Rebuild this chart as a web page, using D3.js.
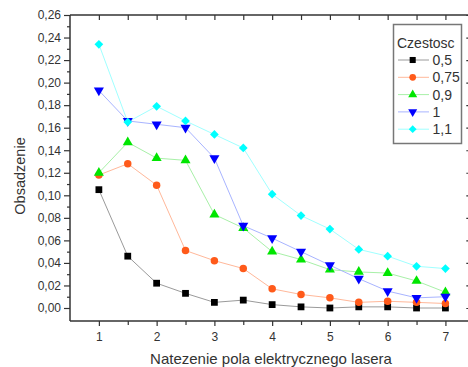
<!DOCTYPE html>
<html>
<head>
<meta charset="utf-8">
<script src="https://cdn.jsdelivr.net/npm/d3@7"></script>
<style>
  body { margin: 0; background: #fff; }
  text { font-family: Arial, "Liberation Sans", sans-serif; fill: #333; }
</style>
</head>
<body>
<div id="chart"></div>
<script>
// data
var xValues = [1, 1.5, 2, 2.5, 3, 3.5, 4, 4.5, 5, 5.5, 6, 6.5, 7];
var seriesNames = ["0,5", "0,75", "0,9", "1", "1,1"];
var s05  = [0.105, 0.046, 0.022, 0.013, 0.005, 0.007, 0.003, 0.001, 0.000, 0.001, 0.001, 0.000, 0.000];
var s075 = [0.118, 0.128, 0.109, 0.051, 0.042, 0.035, 0.017, 0.012, 0.009, 0.005, 0.006, 0.005, 0.004];
var s09  = [0.120, 0.147, 0.133, 0.131, 0.083, 0.071, 0.050, 0.043, 0.034, 0.032, 0.031, 0.024, 0.014];
var s1   = [0.193, 0.166, 0.163, 0.160, 0.133, 0.073, 0.062, 0.050, 0.038, 0.026, 0.015, 0.009, 0.010];
var s11  = [0.234, 0.165, 0.179, 0.166, 0.154, 0.142, 0.101, 0.082, 0.070, 0.052, 0.046, 0.037, 0.035];
var xTicks = [1, 2, 3, 4, 5, 6, 7];
var yTicks = [0, 0.02, 0.04, 0.06, 0.08, 0.10, 0.12, 0.14, 0.16, 0.18, 0.20, 0.22, 0.24, 0.26];

var allSeries = [s05, s075, s09, s1, s11];
var colors = ["#000000", "#ff5a1a", "#00e600", "#0000ff", "#00ffff"];
var lineColors = ["#9a9a9a", "#ffb89a", "#a8f0a8", "#a8b4ff", "#a0ffff"];
var symbols = [d3.symbolSquare, d3.symbolCircle, d3.symbolTriangle, d3.symbolTriangle, d3.symbolSquare];
var symSizes = [46, 44, 44, 44, 38];
var symRotate = [0, 0, 0, 180, 45];

var W = 468, H = 367;
var plotLeft = 70, plotTop = 15, plotBottom = 321;

var svg = d3.select("#chart").append("svg")
    .attr("width", W).attr("height", H);

var x = d3.scaleLinear().domain([0.5, 7.5]).range([plotLeft, 474.3]);
var y = d3.scaleLinear().domain([0, 0.26]).range([308, plotTop]);

var fmt = function (d) { return d3.format(".2f")(d).replace(".", ","); };

// bottom axis
var xb = svg.append("g").attr("transform", "translate(0," + plotBottom + ")")
    .call(d3.axisBottom(x).tickValues(xTicks).tickSize(5).tickPadding(6).tickFormat(d3.format("d")));
xb.append("g").call(d3.axisBottom(x).tickValues(d3.range(1.5, 7.1, 1)).tickSize(4).tickFormat(""));

// top axis, ticks inward
var xt = svg.append("g").attr("transform", "translate(0," + plotTop + ")")
    .call(d3.axisBottom(x).tickValues(d3.range(1, 7.6, 0.5)).tickSize(5).tickFormat(""));

// left axis
var yl = svg.append("g").attr("transform", "translate(" + plotLeft + ",0)")
    .call(d3.axisLeft(y).tickValues(yTicks).tickSize(6).tickPadding(3).tickFormat(fmt));
yl.append("g").call(d3.axisLeft(y).tickValues(d3.range(0.01, 0.26, 0.02)).tickSize(3).tickFormat(""));

// right axis, ticks inward
var yr = svg.append("g").attr("transform", "translate(" + x(7.5) + ",0)")
    .call(d3.axisRight(y).tickValues(yTicks).tickSize(-8).tickFormat(""));

[xb, xt, yl, yr].forEach(function (g) {
    g.selectAll("path.domain").remove();
    g.selectAll("line").attr("stroke", "#333").attr("stroke-width", 1.2);
    g.selectAll("text").attr("font-size", 12).attr("fill", "#333");
});

// frame
svg.append("line").attr("x1", plotLeft).attr("x2", x(7.5)).attr("y1", plotTop).attr("y2", plotTop)
    .attr("stroke", "#333").attr("stroke-width", 1.5);
svg.append("line").attr("x1", plotLeft).attr("x2", x(7.5)).attr("y1", plotBottom).attr("y2", plotBottom)
    .attr("stroke", "#333").attr("stroke-width", 1.5);
svg.append("line").attr("x1", plotLeft).attr("x2", plotLeft).attr("y1", plotTop).attr("y2", plotBottom)
    .attr("stroke", "#333").attr("stroke-width", 1.5);

// lines and markers
var line = d3.line()
    .x(function (d, i) { return x(xValues[i]); })
    .y(function (d) { return y(d); });

allSeries.forEach(function (s, k) {
    svg.append("path")
        .attr("d", line(s))
        .attr("fill", "none")
        .attr("stroke", lineColors[k])
        .attr("stroke-width", 1);
});

allSeries.forEach(function (s, k) {
    svg.selectAll(".m" + k)
        .data(s)
        .enter().append("path")
        .attr("class", "m" + k)
        .attr("d", d3.symbol().type(symbols[k]).size(symSizes[k]))
        .attr("transform", function (d, i) {
            return "translate(" + x(xValues[i]) + "," + y(d) + ") rotate(" + symRotate[k] + ")";
        })
        .attr("fill", colors[k]);
});

// axis titles
svg.append("text")
    .attr("x", 271).attr("y", 364)
    .attr("text-anchor", "middle")
    .attr("font-size", 15)
    .text("Natezenie pola elektrycznego lasera");

svg.append("text")
    .attr("transform", "translate(25,176) rotate(-90)")
    .attr("text-anchor", "middle")
    .attr("font-size", 14.5)
    .text("Obsadzenie");

// legend
var lg = svg.append("g");
lg.append("rect")
    .attr("x", 393.5).attr("y", 24.5).attr("width", 68).attr("height", 119)
    .attr("fill", "#fff").attr("stroke", "#777").attr("stroke-width", 1.5);
lg.append("text").attr("x", 397).attr("y", 47.5).attr("font-size", 14).text("Czestosc");

seriesNames.forEach(function (name, k) {
    var cy = 60 + k * 17.3;
    lg.append("line").attr("x1", 398).attr("x2", 429).attr("y1", cy).attr("y2", cy)
        .attr("stroke", lineColors[k]).attr("stroke-width", 1);
    lg.append("path")
        .attr("d", d3.symbol().type(symbols[k]).size(symSizes[k] * 0.8))
        .attr("transform", "translate(412.7," + cy + ") rotate(" + symRotate[k] + ")")
        .attr("fill", colors[k]);
    lg.append("text").attr("x", 432.5).attr("y", cy + 5).attr("font-size", 14).text(name);
});
</script>
</body>
</html>
